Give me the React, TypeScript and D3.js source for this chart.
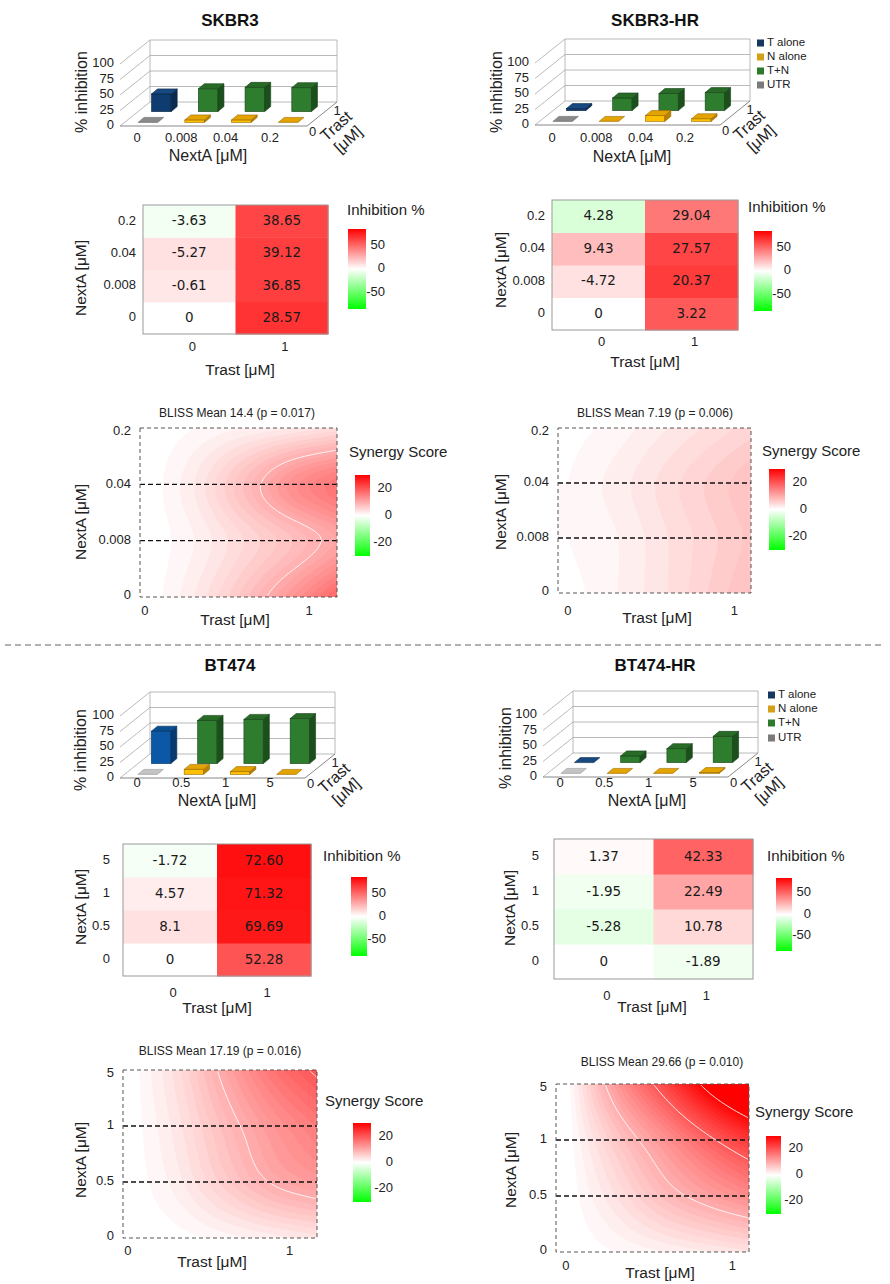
import React from "react";
import * as d3 from "d3";

// ---------------- data ----------------
const nextaSK = ["0", "0.008", "0.04", "0.2"];
const nextaBT = ["0", "0.5", "1", "5"];
const trastDoses = ["0", "1"];
const pctTicks = [0, 25, 50, 75, 100];
const heatTicks = [50, 0, -50];
const synTicks = [20, 0, -20];
const legendLabels = ["T alone", "N alone", "T+N", "UTR"];
const contourLevels = [10, 20, 30];
const blissXs = [0, 0.3, 0.6, 0.9, 1.2];

// 3D bars (% inhibition). Trast 0 row: UTR, N alone x3. Trast 1 row: T alone, T+N x3
const skbr3BarTrast0 = [0, 4, 4, 0];
const skbr3BarTrast1 = [28.57, 36.85, 39.12, 38.65];
const skbr3hrBarTrast0 = [0, -4.72, 9.43, 4.28];
const skbr3hrBarTrast1 = [3.22, 20.37, 27.57, 29.04];
const bt474BarTrast0 = [0, 8.1, 4.57, -1.72];
const bt474BarTrast1 = [52.28, 69.69, 71.32, 72.6];
const bt474hrBarTrast0 = [0, -5.28, -1.95, 1.37];
const bt474hrBarTrast1 = [-1.89, 10.78, 22.49, 42.33];

// heatmap cell texts (NextA low -> high), per Trast dose
const skbr3HeatText0 = ["0", "-0.61", "-5.27", "-3.63"];
const skbr3HeatText1 = ["28.57", "36.85", "39.12", "38.65"];
const skbr3hrHeatText0 = ["0", "-4.72", "9.43", "4.28"];
const skbr3hrHeatText1 = ["3.22", "20.37", "27.57", "29.04"];
const bt474HeatText0 = ["0", "8.1", "4.57", "-1.72"];
const bt474HeatText1 = ["52.28", "69.69", "71.32", "72.60"];
const bt474hrHeatText0 = ["0", "-5.28", "-1.95", "1.37"];
const bt474hrHeatText1 = ["-1.89", "10.78", "22.49", "42.33"];

// heatmap cell colour values (inhibition %)
const skbr3HeatColor0 = [0, 8, 10, -4];
const skbr3HeatColor1 = [68, 64, 64, 62];
const skbr3hrHeatColor0 = [0, 10, 22, -13];
const skbr3hrHeatColor1 = [55, 65, 62, 45];
const bt474HeatColor0 = [0, 10, 6, -3];
const bt474HeatColor1 = [57, 77, 78, 80];
const bt474hrHeatColor0 = [0, -9, -5, 2];
const bt474hrHeatColor1 = [-5, 13, 30, 52];

// BLISS synergy surface samples: rows = NextA level (low -> high), cols = Trast at blissXs
const skbr3Bliss = [
  [0, 3, 7.5, 13, 19],
  [0, 2, 5, 8, 11.5],
  [0, 3, 8, 13.5, 17],
  [0, 1, 2, 3, 4.5],
];
const skbr3hrBliss = [
  [0.5, 2, 4, 6.5, 9],
  [1, 2, 4, 6, 8],
  [1, 2.5, 4.5, 6.5, 8.5],
  [0.5, 1.5, 3, 4.5, 6],
];
const bt474Bliss = [
  [0, 0.5, 1.5, 2.5, 3.6],
  [0, 2.5, 6.5, 10.3, 12.5],
  [0, 3.5, 8.5, 13, 16.5],
  [0, 4.5, 11, 17, 21],
];
const bt474hrBliss = [
  [0, 1, 2, 3, 4],
  [0, 4, 8.5, 12, 15],
  [0, 7, 13.5, 20, 26],
  [0, 12.5, 22.5, 33.5, 44],
];
const blissMeans = ["14.4", "7.19", "17.19", "29.66"];
const blissPs = ["0.017", "0.006", "0.016", "0.010"];
const panelNames = ["SKBR3", "SKBR3-HR", "BT474", "BT474-HR"];

// ---------------- styles ----------------
const FONT = "'Liberation Sans', Arial, sans-serif";
const CELLFONT = "'DejaVu Sans', Verdana, sans-serif";
const heatColor = d3.scaleLinear<string>().domain([-85, 0, 85]).range(["#00ff00", "#ffffff", "#ff0000"]).clamp(true);
const synColor = d3.scaleLinear<string>().domain([-30, 0, 30]).range(["#00ff00", "#ffffff", "#ff0000"]).clamp(true);

const green = { front: "#2e7d2e", top: "#276b27", side: "#1b4f1b", stroke: "#174017" };
const orange = { front: "#ffc000", top: "#e3a300", side: "#b98200", stroke: "#9a6a00" };
const navy = { front: "#0f3c6e", top: "#174a82", side: "#0a2a4e", stroke: "#08223f" };
const brightBlue = { front: "#0b59a6", top: "#0a4e92", side: "#063a70", stroke: "#05305c" };
const darkGray = { front: "#8a8a8a", top: "#8a8a8a", side: "#6a6a6a", stroke: "#666" };
const lightGray = { front: "#c4c4c4", top: "#c4c4c4", side: "#a0a0a0", stroke: "#999" };
const legendColors = ["#17375e", "#d4a017", "#2d7a2d", "#7a7a7a"];

// ---------------- layouts ----------------
const layouts = [
  {
    title: { x: 230, y: 22 },
    bar: { fx: 120, fy: 126, W: 187, yTitle: [83, 92], catY: 139, xTitle: [208, 157], legend: null as null | { x: number; y: number[] } },
    heat: { x0: 143, x1: 328, y0: 205, y1: 334, tickRight: 136, xLabY: 348, xTitle: [240, 371], yTitle: [82, 278], legTitle: [347, 211], cbar: [348, 229, 18, 80] },
    bliss: { x0: 140, x1: 337, y0: 428, y1: 597, xDom: [-0.03, 1.17], title: [237, 414], xLabY: 612, xTitle: [235, 621], yTitle: [82, 522], legTitle: [349, 453], cbar: [355, 475, 15, 81] },
  },
  {
    title: { x: 655, y: 22 },
    bar: { fx: 535, fy: 125, W: 185, yTitle: [498, 92], catY: 139, xTitle: [632, 158], legend: { x: 757, y: [43, 57, 71, 85] } },
    heat: { x0: 552, x1: 738, y0: 200, y1: 330, tickRight: 545, xLabY: 343, xTitle: [645, 363], yTitle: [502, 270], legTitle: [748, 208], cbar: [754, 231, 18, 80] },
    bliss: { x0: 558, x1: 751, y0: 428, y1: 593, xDom: [-0.06, 1.1], title: [655, 414], xLabY: 612, xTitle: [657, 619], yTitle: [502, 512], legTitle: [762, 452], cbar: [769, 469, 16, 81] },
  },
  {
    title: { x: 230, y: 667 },
    bar: { fx: 120, fy: 778, W: 185, yTitle: [82, 750], catY: 784, xTitle: [217, 802], legend: null as null | { x: number; y: number[] } },
    heat: { x0: 123, x1: 311, y0: 844, y1: 976, tickRight: 110, xLabY: 994, xTitle: [217, 1009], yTitle: [82, 907], legTitle: [323, 857], cbar: [351, 877, 16, 79] },
    bliss: { x0: 123, x1: 317, y0: 1070, y1: 1238, xDom: [-0.03, 1.17], title: [220, 1052], xLabY: 1252, xTitle: [212, 1263], yTitle: [82, 1160], legTitle: [325, 1102], cbar: [353, 1123, 18, 79] },
  },
  {
    title: { x: 655, y: 667 },
    bar: { fx: 543, fy: 777, W: 185, yTitle: [507, 748], catY: 784, xTitle: [647, 802], legend: { x: 768, y: [695, 709, 723, 738] } },
    heat: { x0: 554, x1: 753, y0: 839, y1: 979, tickRight: 539, xLabY: 997, xTitle: [652, 1008], yTitle: [511, 908], legTitle: [767, 857], cbar: [776, 878, 16, 73] },
    bliss: { x0: 556, x1: 749, y0: 1084, y1: 1252, xDom: [-0.06, 1.1], title: [662, 1063], xLabY: 1267, xTitle: [660, 1274], yTitle: [512, 1170], legTitle: [755, 1113], cbar: [766, 1136, 15, 78] },
  },
];

const panels = [
  { nexta: nextaSK, bars: [skbr3BarTrast0, skbr3BarTrast1], texts: [skbr3HeatText0, skbr3HeatText1], colors: [skbr3HeatColor0, skbr3HeatColor1], bliss: skbr3Bliss, blue: navy, gray: darkGray },
  { nexta: nextaSK, bars: [skbr3hrBarTrast0, skbr3hrBarTrast1], texts: [skbr3hrHeatText0, skbr3hrHeatText1], colors: [skbr3hrHeatColor0, skbr3hrHeatColor1], bliss: skbr3hrBliss, blue: navy, gray: darkGray },
  { nexta: nextaBT, bars: [bt474BarTrast0, bt474BarTrast1], texts: [bt474HeatText0, bt474HeatText1], colors: [bt474HeatColor0, bt474HeatColor1], bliss: bt474Bliss, blue: brightBlue, gray: lightGray },
  { nexta: nextaBT, bars: [bt474hrBarTrast0, bt474hrBarTrast1], texts: [bt474hrHeatText0, bt474hrHeatText1], colors: [bt474hrHeatColor0, bt474hrHeatColor1], bliss: bt474hrBliss, blue: navy, gray: lightGray },
];

// ---------------- components ----------------
function Bar3D({ p, L }: any) {
  const { fx, fy, W } = L;
  const H = 62, Dx = 30, Dy = -24;
  const yS = d3.scaleLinear().domain([0, 100]).range([0, H]);
  const band = d3.scaleBand<string>().domain(p.nexta).range([fx, fx + W]).paddingInner(0.58).paddingOuter(0.29);
  const bw = band.bandwidth();
  const cat = d3.scalePoint<string>().domain(p.nexta).range([fx + 17, fx + 150]);
  const depth = [0.15, 0.6];
  const bdx = 6, bdy = -5;
  const gl = "#a8a8a8";
  const bars: any[] = [];
  [1, 0].forEach((row) => {
    p.bars[row].forEach((v: number, i: number) => {
      const st = row === 1 ? (i === 0 ? p.blue : green) : i === 0 ? p.gray : orange;
      const bx = (band(p.nexta[i]) as number) + depth[row] * Dx;
      const by = fy + depth[row] * Dy;
      const h = yS(Math.max(0, v));
      const top = `${bx},${by - h} ${bx + bw},${by - h} ${bx + bw + bdx},${by - h + bdy} ${bx + bdx},${by - h + bdy}`;
      const side = `${bx + bw},${by} ${bx + bw + bdx},${by + bdy} ${bx + bw + bdx},${by - h + bdy} ${bx + bw},${by - h}`;
      bars.push(
        <g key={`${row}-${i}`} stroke={st.stroke} strokeWidth={0.6}>
          {h > 0.3 && <rect x={bx} y={by - h} width={bw} height={h} fill={st.front} />}
          {h > 0.3 && <polygon points={side} fill={st.side} />}
          <polygon points={top} fill={st.top} />
        </g>
      );
    });
  });
  const rightEdge = (f: number) => [fx + W + f * Dx, fy + f * Dy];
  const t0 = rightEdge(0.05), t1 = rightEdge(0.8);
  return (
    <g fontFamily={FONT}>
      {pctTicks.map((t) => {
        const h = yS(t);
        return (
          <g key={t} stroke={gl} strokeWidth={0.8}>
            <line x1={fx} y1={fy - h} x2={fx + Dx} y2={fy + Dy - h} />
            <line x1={fx + Dx} y1={fy + Dy - h} x2={fx + Dx + W} y2={fy + Dy - h} />
          </g>
        );
      })}
      <line x1={fx + Dx} y1={fy + Dy} x2={fx + Dx} y2={fy + Dy - H} stroke={gl} strokeWidth={0.8} />
      <line x1={fx + Dx + W} y1={fy + Dy} x2={fx + Dx + W} y2={fy + Dy - H} stroke={gl} strokeWidth={0.8} />
      <line x1={fx} y1={fy} x2={fx + W} y2={fy} stroke="#888" strokeWidth={1} />
      <line x1={fx + W} y1={fy} x2={fx + W + Dx} y2={fy + Dy} stroke="#888" strokeWidth={1} />
      {bars}
      {pctTicks.map((t) => (
        <text key={t} x={fx - 6} y={fy - yS(t)} fontSize={13} textAnchor="end" dominantBaseline="middle" fill="#222">
          {t}
        </text>
      ))}
      {p.nexta.map((d: string) => (
        <text key={d} x={cat(d)} y={L.catY} fontSize={13} textAnchor="middle" dominantBaseline="middle" fill="#222">
          {d}
        </text>
      ))}
      <text x={t0[0] + 4} y={t0[1] + 8} fontSize={13} textAnchor="middle" dominantBaseline="middle" fill="#222">{trastDoses[0]}</text>
      <text x={t1[0] + 6} y={t1[1] + 5} fontSize={13} textAnchor="middle" dominantBaseline="middle" fill="#222">{trastDoses[1]}</text>
      <text transform={`translate(${fx + W + 30},${fy + 1}) rotate(-42)`} fontSize={16} textAnchor="middle" dominantBaseline="middle" fill="#222">
        <tspan x={0} dy={0}>Trast</tspan>
        <tspan x={0} dy={18}>[μM]</tspan>
      </text>
      <text x={L.xTitle[0]} y={L.xTitle[1]} fontSize={16} textAnchor="middle" dominantBaseline="middle" fill="#222">NextA [μM]</text>
      <text transform={`translate(${L.yTitle[0]},${L.yTitle[1]}) rotate(-90)`} fontSize={16} textAnchor="middle" dominantBaseline="middle" fill="#222">% inhibition</text>
      {L.legend &&
        legendLabels.map((lab, i) => (
          <g key={lab}>
            <rect x={L.legend.x} y={L.legend.y[i] - 3.5} width={7} height={7} fill={legendColors[i]} />
            <text x={L.legend.x + 10} y={L.legend.y[i]} fontSize={11.5} dominantBaseline="middle" fill="#222">{lab}</text>
          </g>
        ))}
    </g>
  );
}

function ColorBar({ id, cb, dom, ticks, labelOffset }: any) {
  const [x, y, w, h] = cb;
  const s = d3.scaleLinear().domain([-dom, dom]).range([y + h, y]);
  return (
    <g>
      <defs>
        <linearGradient id={id} x1="0" y1="0" x2="0" y2="1">
          <stop offset="0" stopColor="#ff0000" />
          <stop offset="0.5" stopColor="#ffffff" />
          <stop offset="1" stopColor="#00ff00" />
        </linearGradient>
      </defs>
      <rect x={x} y={y} width={w} height={h} fill={`url(#${id})`} />
      {ticks.map((t: number) => (
        <text key={t} x={x + w + labelOffset} y={s(t)} fontSize={13} textAnchor="end" dominantBaseline="middle" fill="#222">
          {t}
        </text>
      ))}
    </g>
  );
}

function Heatmap({ p, L, id }: any) {
  const xB = d3.scaleBand<string>().domain(trastDoses).range([L.x0, L.x1]);
  const yB = d3.scaleBand<string>().domain(p.nexta).range([L.y1, L.y0]);
  return (
    <g fontFamily={FONT}>
      {trastDoses.map((t, c) =>
        p.nexta.map((d: string, r: number) => (
          <g key={`${c}-${r}`}>
            <rect x={xB(t)} y={yB(d)} width={xB.bandwidth() + 0.5} height={yB.bandwidth() + 0.5} fill={heatColor(p.colors[c][r])} />
            <text x={(xB(t) as number) + xB.bandwidth() / 2} y={(yB(d) as number) + yB.bandwidth() / 2} fontFamily={CELLFONT} fontSize={13.5} textAnchor="middle" dominantBaseline="middle" fill="#1a1a1a">
              {p.texts[c][r]}
            </text>
          </g>
        ))
      )}
      <rect x={L.x0} y={L.y0} width={L.x1 - L.x0} height={L.y1 - L.y0} fill="none" stroke="#999" strokeWidth={1} />
      {p.nexta.map((d: string) => (
        <text key={d} x={L.tickRight} y={(yB(d) as number) + yB.bandwidth() / 2} fontSize={13} textAnchor="end" dominantBaseline="middle" fill="#222">{d}</text>
      ))}
      {trastDoses.map((t) => (
        <text key={t} x={(xB(t) as number) + xB.bandwidth() / 2 + 3} y={L.xLabY} fontSize={13} textAnchor="middle" dominantBaseline="middle" fill="#222">{t}</text>
      ))}
      <text x={L.xTitle[0]} y={L.xTitle[1]} fontSize={15.5} textAnchor="middle" dominantBaseline="middle" fill="#222">Trast [μM]</text>
      <text transform={`translate(${L.yTitle[0]},${L.yTitle[1]}) rotate(-90)`} fontSize={15.5} textAnchor="middle" dominantBaseline="middle" fill="#222">NextA [μM]</text>
      <text x={L.legTitle[0]} y={L.legTitle[1]} fontSize={15} dominantBaseline="middle" fill="#222">Inhibition %</text>
      <ColorBar id={id} cb={L.cbar} dom={85} ticks={heatTicks} labelOffset={19} />
    </g>
  );
}

// Catmull-Rom cubic through four samples
function cr(p0: number, p1: number, p2: number, p3: number, t: number) {
  return 0.5 * (2 * p1 + (-p0 + p2) * t + (2 * p0 - 5 * p1 + 4 * p2 - p3) * t * t + (-p0 + 3 * p1 - 3 * p2 + p3) * t * t * t);
}
function at(arr: number[], k: number) {
  const n = arr.length;
  if (k < 0) return 2 * arr[0] - arr[1];
  if (k >= n) return 2 * arr[n - 1] - arr[n - 2];
  return arr[k];
}
function interp1(arr: number[], u: number) {
  const n = arr.length;
  const k = Math.min(Math.floor(u), n - 2);
  const t = u - k;
  return cr(at(arr, k - 1), at(arr, k), at(arr, k + 1), at(arr, k + 2), t);
}
function sampleGrid(grid: number[][], x: number, r: number) {
  const nC = blissXs.length, nR = grid.length;
  const step = blissXs[1] - blissXs[0];
  const c = Math.max(0, Math.min(nC - 1, (x - blissXs[0]) / step));
  const rr = Math.max(0, Math.min(nR - 1, r));
  const colVals = grid.map((row) => interp1(row, c));
  return interp1(colVals, rr);
}

function Bliss({ p, L, id, mean, pv }: any) {
  const nx = 130, ny = 110;
  const nR = p.bliss.length - 1;
  const values: number[] = new Array(nx * ny);
  for (let j = 0; j < ny; j++) {
    const r = nR * (1 - (j + 0.5) / ny);
    for (let i = 0; i < nx; i++) {
      const x = L.xDom[0] + ((i + 0.5) / nx) * (L.xDom[1] - L.xDom[0]);
      values[j * nx + i] = sampleGrid(p.bliss, x, r);
    }
  }
  const [mn, mx] = d3.extent(values) as [number, number];
  const th = d3.range(Math.floor(mn), Math.ceil(mx) + 1, 1);
  const bands = d3.contours().size([nx, ny]).thresholds(th)(values);
  const lines = d3.contours().size([nx, ny]).thresholds(contourLevels)(values);
  const path = d3.geoPath();
  const xS = d3.scaleLinear().domain(L.xDom).range([L.x0, L.x1]);
  const yS = d3.scaleLinear().domain([0, nR]).range([L.y1, L.y0]);
  const tf = `translate(${L.x0},${L.y0}) scale(${(L.x1 - L.x0) / nx},${(L.y1 - L.y0) / ny})`;
  return (
    <g fontFamily={FONT}>
      <defs>
        <clipPath id={`${id}-clip`}>
          <rect x={L.x0 + 1.2} y={L.y0 + 1.2} width={L.x1 - L.x0 - 2.4} height={L.y1 - L.y0 - 2.4} />
        </clipPath>
      </defs>
      <rect x={L.x0} y={L.y0} width={L.x1 - L.x0} height={L.y1 - L.y0} fill={synColor(mn)} />
      <g transform={tf}>
        {bands.map((b) => (
          <path key={b.value} d={path(b as any) || ""} fill={synColor(b.value)} stroke="none" />
        ))}
      </g>
      <g clipPath={`url(#${id}-clip)`}>
        <g transform={tf}>
          {lines.map((b) => (
            <path key={b.value} d={path(b as any) || ""} fill="none" stroke="#ffffff" strokeOpacity={0.9} strokeWidth={1} vectorEffect="non-scaling-stroke" />
          ))}
        </g>
      </g>
      {[1, 2].map((r) => (
        <line key={r} x1={L.x0} x2={L.x1} y1={yS(r)} y2={yS(r)} stroke="#111" strokeWidth={1.3} strokeDasharray="5,3" />
      ))}
      <rect x={L.x0} y={L.y0} width={L.x1 - L.x0} height={L.y1 - L.y0} fill="none" stroke="#555" strokeWidth={1} strokeDasharray="4,3" />
      {p.nexta.map((d: string, r: number) => (
        <text key={d} x={L.x0 - 9} y={yS(r) + (r === nR ? 4 : r === 0 ? -1 : 0)} fontSize={13} textAnchor="end" dominantBaseline="middle" fill="#222">{d}</text>
      ))}
      {trastDoses.map((t) => (
        <text key={t} x={xS(+t)} y={L.xLabY} fontSize={13} textAnchor="middle" dominantBaseline="middle" fill="#222">{t}</text>
      ))}
      <text x={L.title[0]} y={L.title[1]} fontSize={12} textAnchor="middle" dominantBaseline="middle" fill="#222">{`BLISS Mean ${mean} (p = ${pv})`}</text>
      <text x={L.xTitle[0]} y={L.xTitle[1]} fontSize={15.5} textAnchor="middle" dominantBaseline="middle" fill="#222">Trast [μM]</text>
      <text transform={`translate(${L.yTitle[0]},${L.yTitle[1]}) rotate(-90)`} fontSize={15.5} textAnchor="middle" dominantBaseline="middle" fill="#222">NextA [μM]</text>
      <text x={L.legTitle[0]} y={L.legTitle[1]} fontSize={15} dominantBaseline="middle" fill="#222">Synergy Score</text>
      <ColorBar id={`${id}-cb`} cb={L.cbar} dom={30} ticks={synTicks} labelOffset={22} />
    </g>
  );
}

export default function App() {
  return (
    <svg width={890} height={1284} viewBox="0 0 890 1284" style={{ position: "absolute", left: 0, top: 0, background: "#fff" }} fontFamily={FONT}>
      <rect x={0} y={0} width={890} height={1284} fill="#fff" />
      {panels.map((p, k) => {
        const L = layouts[k];
        return (
          <g key={k}>
            <text x={L.title.x} y={L.title.y} fontSize={17} fontWeight="bold" textAnchor="middle" dominantBaseline="middle" fill="#111">{panelNames[k]}</text>
            <Bar3D p={p} L={L.bar} />
            <Heatmap p={p} L={L.heat} id={`heat${k}`} />
            <Bliss p={p} L={L.bliss} id={`bliss${k}`} mean={blissMeans[k]} pv={blissPs[k]} />
          </g>
        );
      })}
      <line x1={5} x2={885} y1={645} y2={645} stroke="#999" strokeWidth={1.5} strokeDasharray="6,4" />
    </svg>
  );
}
